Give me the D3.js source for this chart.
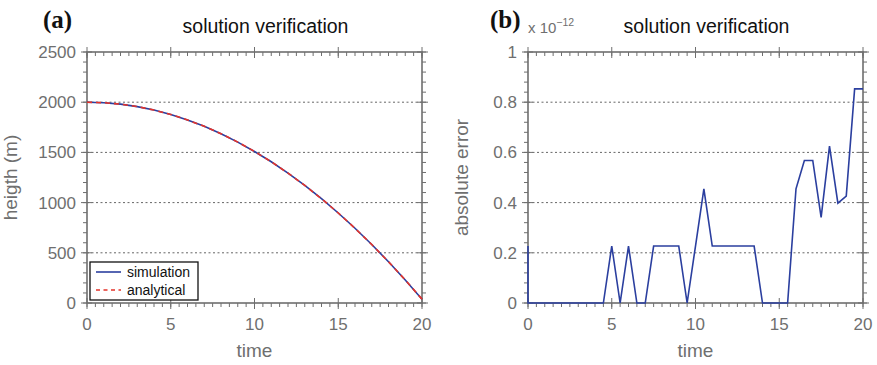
<!DOCTYPE html>
<html>
<head>
<meta charset="utf-8">
<script src="https://cdn.jsdelivr.net/npm/d3@7"></script>
<style>
  body { margin: 0; background: #fff; }
  text { font-family: "Liberation Sans", Arial, sans-serif; }
</style>
</head>
<body>
<div id="chart"></div>
<script>
// panel (a): height vs time
const heightTime = [0, 1, 2, 3, 4, 5, 6, 7, 8, 9, 10, 11, 12, 13, 14, 15, 16, 17, 18, 19, 20]
const simulation = [2000, 1995.1, 1980.4, 1955.9, 1921.5, 1877.4, 1823.4, 1759.7, 1686.1, 1602.7,
    1509.5, 1406.5, 1293.7, 1171.1, 1038.6, 896.4, 744.3, 582.5, 410.8, 229.3, 38]
const analytical = [2000, 1995.1, 1980.4, 1955.9, 1921.5, 1877.4, 1823.4, 1759.7, 1686.1, 1602.7,
    1509.5, 1406.5, 1293.7, 1171.1, 1038.6, 896.4, 744.3, 582.5, 410.8, 229.3, 38]

// panel (b): absolute error (x 1e-12)
const errorTime = [0, 0, 0.5, 1, 1.5, 2, 2.5, 3, 3.5, 4, 4.5, 5, 5.5, 6, 6.5, 7, 7.5, 8, 8.5, 9, 9.5,
    10, 10.5, 11, 11.5, 12, 12.5, 13, 13.5, 14, 14.5, 15, 15.5, 16, 16.5, 17, 17.5, 18, 18.5, 19, 19.5, 20]
const absError = [0.227, 0, 0, 0, 0, 0, 0, 0, 0, 0, 0, 0.227, 0, 0.227, 0, 0, 0.227, 0.227, 0.227, 0.227, 0,
    0.227, 0.455, 0.227, 0.227, 0.227, 0.227, 0.227, 0.227, 0, 0, 0, 0, 0.455, 0.568, 0.568, 0.341, 0.625, 0.398, 0.426, 0.853, 0.853]

const xTicks = [0, 5, 10, 15, 20]
const yTicksA = [0, 500, 1000, 1500, 2000, 2500]
const yTicksB = [0, 0.2, 0.4, 0.6, 0.8, 1]

const W = 877, H = 365
const axisColor = '#6e6e6e'
const labelColor = '#6f6f6f'
const blue = '#2b3f9f'
const red = '#e5332a'

const svg = d3.select('#chart').append('svg')
    .attr('width', W)
    .attr('height', H)

/**
 * draws one framed panel and returns its scales
 */
function drawPanel(left, right, yDomain, yTicks, yMinorStep, title, yLabel, yLabelOffset, tag, tagOffset) {
    const top = 52, bottom = 303
    const x = d3.scaleLinear().domain([0, 20]).range([left, right])
    const y = d3.scaleLinear().domain(yDomain).range([bottom, top])
    const g = svg.append('g')

    //grid lines
    g.append('g').selectAll('line')
        .data(yTicks.filter(t => t > yDomain[0] && t < yDomain[1]))
        .join('line')
        .attr('x1', left).attr('x2', right)
        .attr('y1', d => y(d)).attr('y2', d => y(d))
        .attr('stroke', '#555').attr('stroke-width', 0.9)
        .attr('stroke-dasharray', '2,2.5')

    //minor ticks
    const xMinor = d3.range(0, 20.001, 0.5)
    const yMinor = d3.range(yDomain[0], yDomain[1] + yMinorStep / 2, yMinorStep)
    const ticks = g.append('g').attr('stroke', axisColor).attr('stroke-width', 1)
    xMinor.forEach(t => {
        ticks.append('line').attr('x1', x(t)).attr('x2', x(t)).attr('y1', bottom).attr('y2', bottom + 4)
        ticks.append('line').attr('x1', x(t)).attr('x2', x(t)).attr('y1', top).attr('y2', top + 4)
    })
    yMinor.forEach(t => {
        ticks.append('line').attr('x1', left - 4).attr('x2', left).attr('y1', y(t)).attr('y2', y(t))
        ticks.append('line').attr('x1', right).attr('x2', right + 4).attr('y1', y(t)).attr('y2', y(t))
    })
    //major ticks
    xTicks.forEach(t => {
        ticks.append('line').attr('x1', x(t)).attr('x2', x(t)).attr('y1', bottom - 5).attr('y2', bottom + 6)
        ticks.append('line').attr('x1', x(t)).attr('x2', x(t)).attr('y1', top - 5).attr('y2', top + 6)
    })
    yTicks.forEach(t => {
        ticks.append('line').attr('x1', left - 6).attr('x2', left + 5).attr('y1', y(t)).attr('y2', y(t))
        ticks.append('line').attr('x1', right - 5).attr('x2', right + 6).attr('y1', y(t)).attr('y2', y(t))
    })

    //frame
    g.append('rect')
        .attr('x', left).attr('y', top)
        .attr('width', right - left).attr('height', bottom - top)
        .attr('fill', 'none').attr('stroke', axisColor).attr('stroke-width', 1.6)

    //tick labels
    g.append('g').selectAll('text')
        .data(xTicks)
        .join('text')
        .attr('x', d => x(d)).attr('y', bottom + 27)
        .attr('text-anchor', 'middle')
        .attr('fill', labelColor).style('font-size', '17px')
        .text(d => d)
    g.append('g').selectAll('text')
        .data(yTicks)
        .join('text')
        .attr('x', left - 11).attr('y', d => y(d) + 6)
        .attr('text-anchor', 'end')
        .attr('fill', labelColor).style('font-size', '17px')
        .text(d => d)

    //axis labels and title
    g.append('text')
        .attr('x', (left + right) / 2).attr('y', 357)
        .attr('text-anchor', 'middle')
        .attr('fill', labelColor).style('font-size', '19px')
        .text('time')
    g.append('text')
        .attr('transform', `translate(${left - yLabelOffset}, ${(top + bottom) / 2}) rotate(-90)`)
        .attr('text-anchor', 'middle')
        .attr('fill', labelColor).style('font-size', '19px')
        .text(yLabel)
    g.append('text')
        .attr('x', (left + right) / 2 + 11).attr('y', 33)
        .attr('text-anchor', 'middle')
        .attr('fill', '#111').style('font-size', '19.5px')
        .text(title)
    g.append('text')
        .attr('x', left - tagOffset).attr('y', 28)
        .style('font-family', '"Liberation Serif", "Times New Roman", serif')
        .style('font-weight', 'bold').style('font-size', '25px')
        .attr('fill', '#111')
        .text(tag)

    return {g, x, y}
}

// panel (a)
const a = drawPanel(87, 422, [0, 2500], yTicksA, 100, 'solution verification', 'heigth (m)', 70, '(a)', 44)
const lineA = d3.line()
    .x((d, i) => a.x(heightTime[i]))
    .y(d => a.y(d))
a.g.append('path').datum(simulation)
    .attr('d', lineA).attr('fill', 'none')
    .attr('stroke', blue).attr('stroke-width', 1.6)
a.g.append('path').datum(analytical)
    .attr('d', lineA).attr('fill', 'none')
    .attr('stroke', red).attr('stroke-width', 1.6)
    .attr('stroke-dasharray', '5,4')

//legend
const legend = a.g.append('g')
legend.append('rect')
    .attr('x', 90).attr('y', 262).attr('width', 108).attr('height', 38)
    .attr('fill', '#fff').attr('stroke', '#111').attr('stroke-width', 1.3)
const legendItems = [['simulation', blue, null], ['analytical', red, '4,3.5']]
legendItems.forEach(([name, color, dash], i) => {
    const ly = 272 + i * 18
    legend.append('line')
        .attr('x1', 96).attr('x2', 121).attr('y1', ly).attr('y2', ly)
        .attr('stroke', color).attr('stroke-width', 1.6)
        .attr('stroke-dasharray', dash)
    legend.append('text')
        .attr('x', 127).attr('y', ly + 5)
        .attr('fill', '#111').style('font-size', '14px')
        .text(name)
})

// panel (b)
const b = drawPanel(528, 863, [0, 1], yTicksB, 0.04, 'solution verification', 'absolute error', 60, '(b)', 38)
const lineB = d3.line()
    .x((d, i) => b.x(errorTime[i]))
    .y(d => b.y(d))
b.g.append('path').datum(absError)
    .attr('d', lineB).attr('fill', 'none')
    .attr('stroke', blue).attr('stroke-width', 1.6)
    .attr('stroke-linejoin', 'miter')

//exponent label
const expo = b.g.append('text')
    .attr('x', 528).attr('y', 33)
    .attr('fill', labelColor).style('font-size', '15px')
expo.append('tspan').text('x 10')
expo.append('tspan').attr('dy', -7).style('font-size', '10.5px').text('\u221212')
</script>
</body>
</html>
